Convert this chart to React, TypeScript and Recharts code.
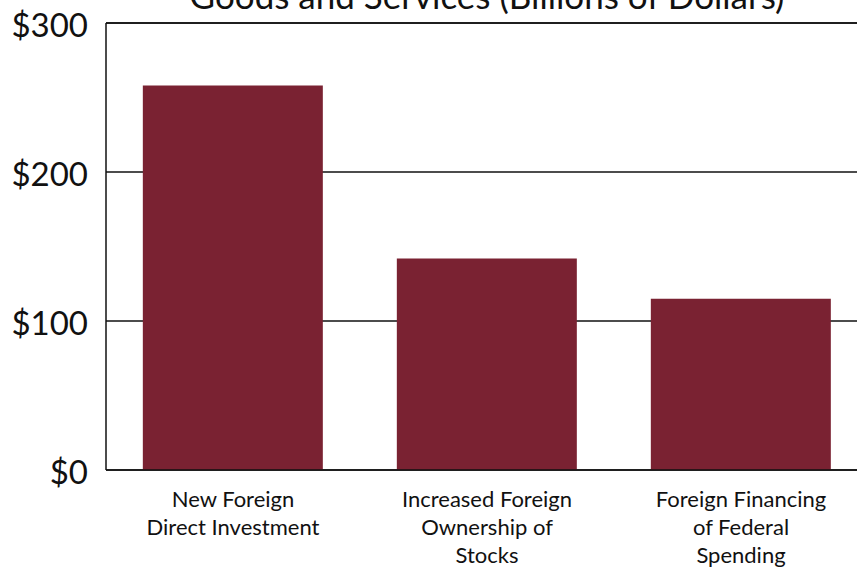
import { BarChart, Bar, XAxis, YAxis, CartesianGrid, ReferenceLine } from 'recharts';

const categories = [
  'New Foreign|Direct Investment',
  'Increased Foreign|Ownership of|Stocks',
  'Foreign Financing|of Federal|Spending',
];
const values = [258, 142, 115];
const yTicks = [0, 100, 200, 300];

const data = categories.map((name, i) => ({ name, value: values[i] }));

const FONT = 'Lato, "Open Sans", sans-serif';

function CategoryTick({ x, y, payload }: any) {
  const lines = String(payload.value).split('|');
  return (
    <text x={x} y={y} textAnchor="middle" fontFamily={FONT} fontSize={22} fill="#111">
      {lines.map((line, i) => (
        <tspan key={i} x={x} dy={i === 0 ? 29 : 28}>
          {line}
        </tspan>
      ))}
    </text>
  );
}

export default function App() {
  // the plot runs a little past the right edge of the picture, as in the source
  return (
    <div style={{ position: 'absolute', left: 0, top: 0, width: 857, height: 569, overflow: 'hidden', background: '#fff' }}>
      <BarChart
        width={868}
        height={569}
        data={data}
        margin={{ top: 23, right: 0, bottom: 0, left: 0 }}
        barCategoryGap="14.5%"
      >
        <text x={487} y={9} textAnchor="middle" fontFamily={FONT} fontSize={35} fill="#111">
          Goods and Services (Billions of Dollars)
        </text>
        <CartesianGrid vertical={false} stroke="#111" strokeWidth={1.5} />
        <XAxis
          dataKey="name"
          height={99}
          axisLine={{ stroke: '#111', strokeWidth: 1.5 }}
          tickLine={false}
          tick={<CategoryTick />}
          interval={0}
        />
        <YAxis
          width={106}
          domain={[0, 300]}
          ticks={yTicks}
          tickFormatter={(v: number) => `$${v}`}
          axisLine={{ stroke: '#111', strokeWidth: 1.5 }}
          tickLine={false}
          tickMargin={12}
          tick={{ fontFamily: FONT, fontSize: 33, fill: '#111', dy: 2 }}
        />
        <ReferenceLine y={300} stroke="#111" strokeWidth={1.5} />
        <Bar dataKey="value" fill="#7a2232" isAnimationActive={false} />
      </BarChart>
    </div>
  );
}
